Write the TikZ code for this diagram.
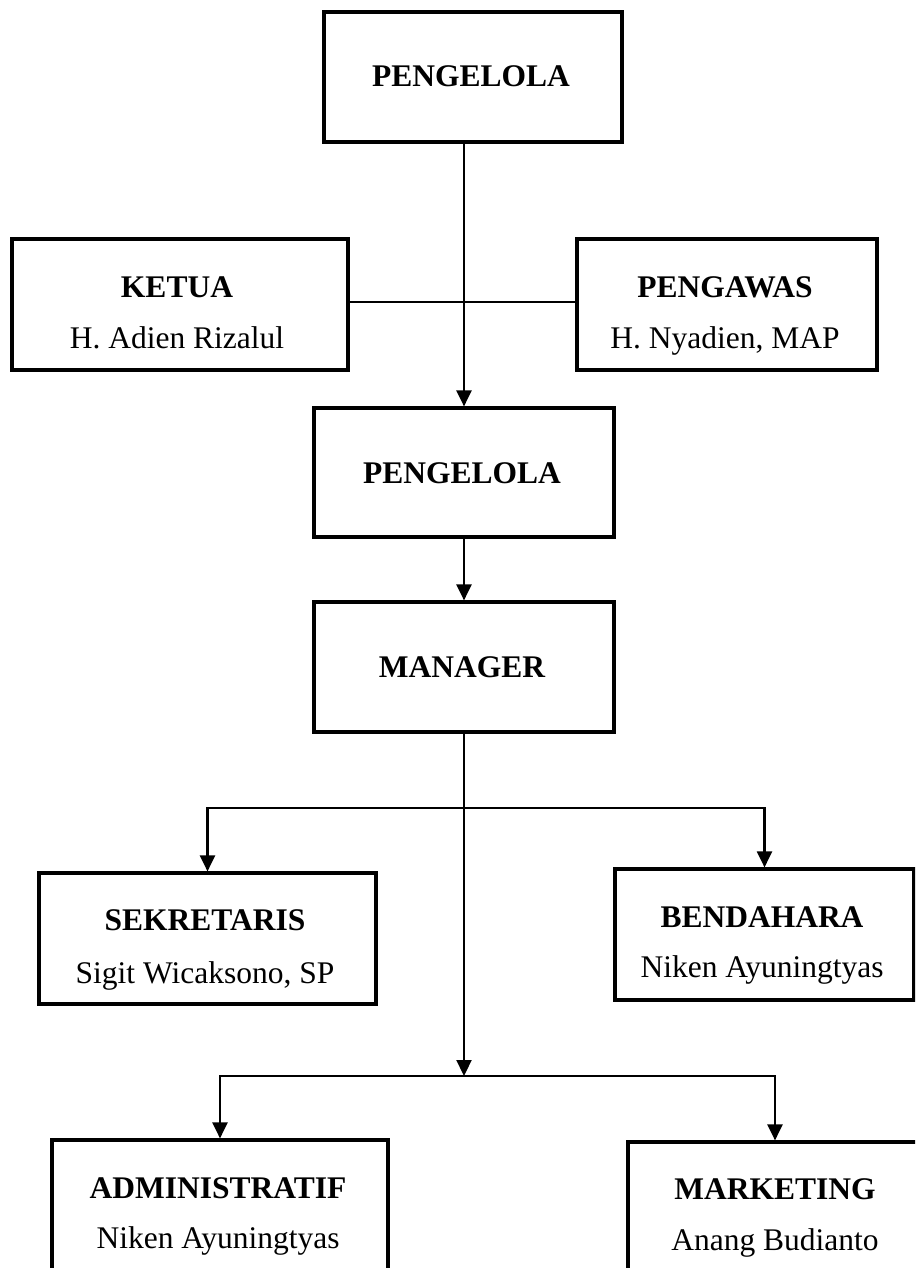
\documentclass[tikz,border=0pt]{standalone}
\usepackage{fontspec}
\setmainfont{Liberation Serif}
\usetikzlibrary{arrows.meta}
\begin{document}
\begin{tikzpicture}[x=1pt,y=-1pt,
  box/.style={draw, line width=3.2pt, rectangle, inner sep=0pt},
  title/.style={anchor=base, inner sep=0pt, font=\fontsize{31.5}{38}\selectfont\bfseries},
  person/.style={anchor=base, inner sep=0pt, font=\fontsize{31.5}{38}\selectfont},
  conn/.style={line width=2.2pt},
  arr/.style={conn, -{Triangle[length=16pt,width=15pt]}}]
\useasboundingbox (0,0) rectangle (915,1268);
\fill[white] (0,0) rectangle (915,1268);
\clip (0,0) rectangle (915,1268);

% boxes
\node[box, minimum width=298pt, minimum height=130pt] (p1) at (473,77) {};
\node[box, minimum width=336pt, minimum height=131pt] (ketua) at (180,304.5) {};
\node[box, minimum width=300pt, minimum height=131pt] (pengawas) at (727,304.5) {};
\node[box, minimum width=300pt, minimum height=129pt] (p2) at (464,472.5) {};
\node[box, minimum width=300pt, minimum height=130pt] (manager) at (464,667) {};
\node[box, minimum width=337pt, minimum height=131pt] (sek) at (207.5,938.5) {};
\node[box, minimum width=299pt, minimum height=131pt] (bend) at (764.5,934.5) {};
\node[box, minimum width=336pt, minimum height=150pt] (admin) at (220,1215) {};
\node[box, minimum width=294pt, minimum height=150pt] (mark) at (775,1217) {};

% texts
\node[title] (p1t) at (471,87) {PENGELOLA};
\node[title] (ketuat) at (177,297) {KETUA};
\node[person] (ketuan) at (177,348) {H. Adien Rizalul};
\node[title] (pengawast) at (725,297) {PENGAWAS};
\node[person] (pengawasn) at (725,348) {H. Nyadien, MAP};
\node[title] (p2t) at (462,483) {PENGELOLA};
\node[title] (managert) at (462,677) {MANAGER};
\node[title] (sekt) at (205,930) {SEKRETARIS};
\node[person] (sekn) at (205,983) {Sigit Wicaksono, SP};
\node[title] (bendt) at (762,927) {BENDAHARA};
\node[person] (bendn) at (762,977) {Niken Ayuningtyas};
\node[title] (admint) at (218,1198) {ADMINISTRATIF};
\node[person] (adminn) at (218,1248) {Niken Ayuningtyas};
\node[title] (markt) at (775,1199) {MARKETING};
\node[person] (markn) at (775,1250) {Anang Budianto};

% connectors
\coordinate (j1) at (464,808);
\coordinate (j2) at (464,1076);
\draw[arr] (p1.south -| p2.north) -- (p2.north);
\draw[conn] ([yshift=2.5pt]ketua.east) -- ([yshift=2.5pt]pengawas.west);
\draw[arr] (p2.south) -- (manager.north);
\draw[arr] (manager.south) -- (j2);
\draw[arr] (j1) -| (sek.north);
\draw[arr] (j1) -| (bend.north);
\draw[arr] (j2) -| (admin.north);
\draw[arr] (j2) -| (mark.north);
\end{tikzpicture}
\end{document}
